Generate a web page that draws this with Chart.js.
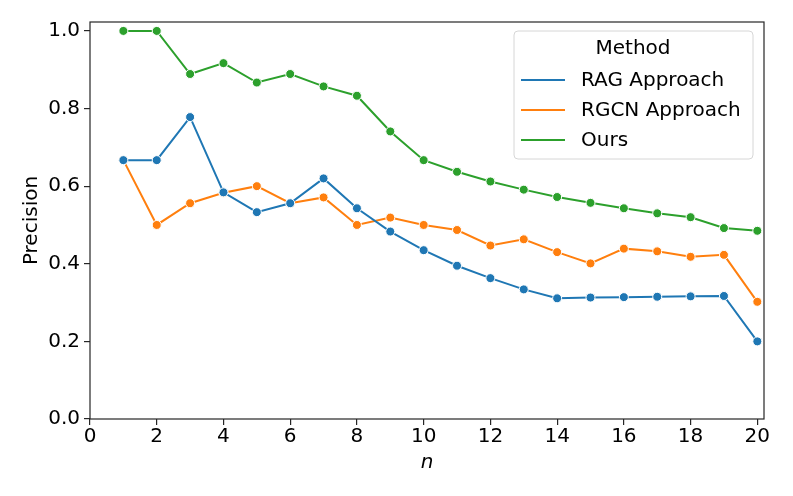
<!DOCTYPE html>
<html>
<head>
<meta charset="utf-8">
<script src="https://cdn.jsdelivr.net/npm/chart.js@4/dist/chart.umd.min.js"></script>
<style>
  body { margin: 0; background: #fff; }
  #wrap { width: 793px; height: 496px; }
</style>
</head>
<body>
<div id="wrap"><canvas id="myChart" width="793" height="496"></canvas></div>
<script>
// data
const nValues = [1, 2, 3, 4, 5, 6, 7, 8, 9, 10, 11, 12, 13, 14, 15, 16, 17, 18, 19, 20];
const ragValues = [0.667, 0.667, 0.778, 0.584, 0.533, 0.556, 0.620, 0.543, 0.483, 0.435,
    0.395, 0.363, 0.334, 0.311, 0.313, 0.314, 0.315, 0.316, 0.317, 0.200];
const rgcnValues = [0.667, 0.500, 0.556, 0.583, 0.600, 0.556, 0.571, 0.500, 0.519, 0.500,
    0.487, 0.447, 0.463, 0.430, 0.401, 0.439, 0.432, 0.418, 0.423, 0.302];
const oursValues = [1.000, 1.000, 0.889, 0.917, 0.867, 0.889, 0.857, 0.833, 0.741, 0.667,
    0.637, 0.612, 0.591, 0.572, 0.557, 0.543, 0.530, 0.520, 0.492, 0.485];
const seriesNames = ['RAG Approach', 'RGCN Approach', 'Ours'];
const xTicks = [0, 2, 4, 6, 8, 10, 12, 14, 16, 18, 20];
const yTicks = [0.0, 0.2, 0.4, 0.6, 0.8, 1.0];

const colors = ['#1f77b4', '#ff7f0e', '#2ca02c'];
const FONT = 'DejaVu Sans';

function toPoints(vals) {
    return vals.map(function (v, i) { return { x: nValues[i], y: v }; });
}

function makeSet(label, vals, color) {
    return {
        label: label,
        data: toPoints(vals),
        borderColor: color,
        backgroundColor: color,
        borderWidth: 2,
        pointRadius: 4.5,
        pointHoverRadius: 4.5,
        pointBackgroundColor: color,
        pointBorderColor: '#fff',
        pointBorderWidth: 1,
        tension: 0,
        clip: false
    };
}

// frame around the plot + legend box inside it
const framePlugin = {
    id: 'frame',
    afterDraw: function (chart) {
        const ctx = chart.ctx;
        const a = chart.chartArea;
        ctx.save();
        ctx.strokeStyle = '#262626';
        ctx.lineWidth = 1.2;
        ctx.strokeRect(a.left, a.top, a.right - a.left, a.bottom - a.top);

        // legend
        const bx = 514, by = 31, bw = 239, bh = 128;
        ctx.globalAlpha = 0.8;
        ctx.fillStyle = '#fff';
        ctx.beginPath();
        ctx.roundRect(bx, by, bw, bh, 4);
        ctx.fill();
        ctx.globalAlpha = 1;
        ctx.strokeStyle = '#d6d6d6';
        ctx.lineWidth = 1;
        ctx.stroke();

        ctx.font = '20px "' + FONT + '"';
        ctx.fillStyle = '#000';
        ctx.textBaseline = 'middle';
        ctx.textAlign = 'center';
        ctx.fillText('Method', 633, 49);
        ctx.textAlign = 'left';
        chart.data.datasets.forEach(function (ds, i) {
            const y = 80 + i * 30;
            ctx.strokeStyle = ds.borderColor;
            ctx.lineWidth = 2;
            ctx.beginPath();
            ctx.moveTo(521, y);
            ctx.lineTo(565, y);
            ctx.stroke();
            ctx.fillStyle = '#000';
            ctx.fillText(ds.label, 581, y + 1);
        });
        ctx.restore();
    }
};

const ctx1 = document.getElementById('myChart').getContext('2d');
const config = {
    type: 'line',
    data: {
        datasets: [
            makeSet(seriesNames[0], ragValues, colors[0]),
            makeSet(seriesNames[1], rgcnValues, colors[1]),
            makeSet(seriesNames[2], oursValues, colors[2])
        ]
    },
    options: {
        responsive: false,
        animation: false,
        devicePixelRatio: 1,
        layout: { padding: { top: 22, right: 29, left: 0, bottom: 0 } },
        plugins: {
            legend: { display: false },
            tooltip: { enabled: false }
        },
        scales: {
            x: {
                type: 'linear',
                min: 0,
                max: 20.2,
                afterFit: function (s) { s.height = 77; },
                afterBuildTicks: function (s) {
                    s.ticks = xTicks.map(function (v) { return { value: v }; });
                },
                grid: { drawOnChartArea: false, drawTicks: true, tickLength: 6, color: '#262626', lineWidth: 1.2 },
                border: { display: false },
                ticks: {
                    color: '#000',
                    padding: 0,
                    maxRotation: 0,
                    font: { family: FONT, size: 20 },
                    callback: function (v) { return String(v); }
                },
                title: {
                    display: true,
                    text: 'n',
                    color: '#000',
                    font: { family: FONT, size: 20, style: 'italic' },
                    padding: { top: 0, bottom: 21 }
                }
            },
            y: {
                min: 0,
                max: 1.023,
                afterFit: function (s) { s.width = 90; },
                afterBuildTicks: function (s) {
                    s.ticks = yTicks.map(function (v) { return { value: v }; });
                },
                grid: { drawOnChartArea: false, drawTicks: true, tickLength: 6, color: '#262626', lineWidth: 1.2 },
                border: { display: false },
                ticks: {
                    color: '#000',
                    padding: 4,
                    font: { family: FONT, size: 20 },
                    callback: function (v) { return v.toFixed(1); }
                },
                title: {
                    display: true,
                    text: 'Precision',
                    color: '#000',
                    font: { family: FONT, size: 20 },
                    padding: { top: 20, bottom: 0 }
                }
            }
        }
    },
    plugins: [framePlugin]
};
const myChart = new Chart(ctx1, config);
</script>
</body>
</html>
